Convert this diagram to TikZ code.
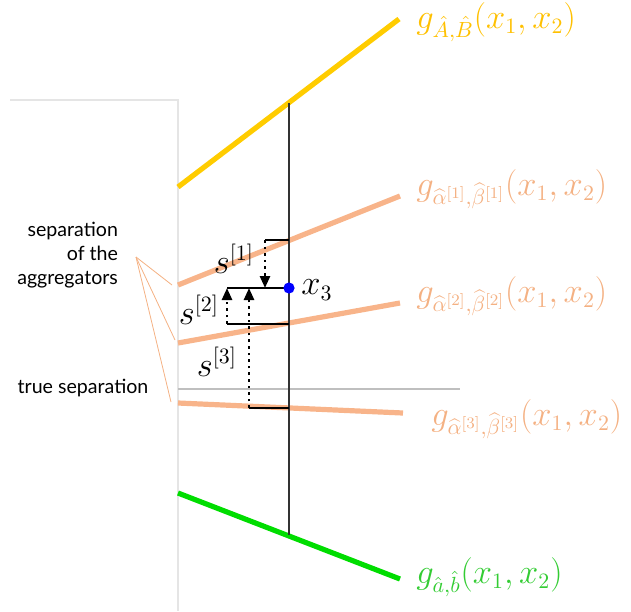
\documentclass[tikz,border=0pt]{standalone}
\usepackage{fontspec}
\setsansfont{Lato}
\usetikzlibrary{arrows.meta}
\definecolor{lgold}{HTML}{FFCC00}
\definecolor{lsalmon}{HTML}{F8B48A}
\definecolor{lgreen}{HTML}{00DD00}
\definecolor{tgold}{HTML}{FFC000}
\definecolor{tsalmon}{HTML}{F4B183}
\definecolor{tgreen}{HTML}{33CC33}
\tikzset{
    aggline/.style={line width=2.6pt},
    gap/.style={black, line width=1.3pt, dotted, -{Triangle[length=6pt,width=5pt]}},
    tick/.style={black, line width=0.6pt},
    flabel/.style={anchor=west, inner sep=1pt, font=\fontsize{16}{18}\selectfont},
    slabel/.style={inner sep=1pt, font=\fontsize{16}{18}\selectfont},
    note/.style={font=\sffamily\fontsize{9.8}{12}\selectfont, align=right},
    leader/.style={tsalmon, line width=0.4pt}
}
\begin{document}
\begin{tikzpicture}[x=0.5pt,y=-0.5pt]
    \useasboundingbox (0,0) rectangle (631,611);
    % frame and true separation
    \draw[gray!20, line width=0.6pt] (10,100) -- (178,100) -- (178,611);
    \draw[gray!50, line width=0.6pt] (178,389) -- (460,389);
    % aggregator lines
    \coordinate (ya) at (178,187); \coordinate (yb) at (399,19);
    \coordinate (oa1) at (178,285); \coordinate (ob1) at (400,196);
    \coordinate (oa2) at (178,343); \coordinate (ob2) at (400,303);
    \coordinate (oa3) at (178,403); \coordinate (ob3) at (403,413);
    \coordinate (ga) at (178,493); \coordinate (gb) at (400,579);
    \draw[aggline, lgold] (ya) -- (yb);
    \draw[aggline, lsalmon] (oa1) -- (ob1);
    \draw[aggline, lsalmon] (oa2) -- (ob2);
    \draw[aggline, lsalmon] (oa3) -- (ob3);
    \draw[aggline, lgreen] (ga) -- (gb);
    % vertical through x3
    \coordinate (vtop) at (289,103);
    \coordinate (vbot) at (289,535);
    \draw[black!80, line width=1pt] (vtop) -- (vbot);
    % distances
    \coordinate (p1) at (289,240);
    \coordinate (p2) at (289,324);
    \coordinate (p3) at (289,408);
    \coordinate (px) at (289,288);
    \draw[tick] (p1) -- (265,240);
    \draw[tick] (px) -- (227,288);
    \draw[tick] (p2) -- (227,324);
    \draw[tick] (p3) -- (249,408);
    \draw[gap] (265,240) -- (265,288);
    \draw[gap] (227,324) -- (227,288);
    \draw[gap] (249,408) -- (249,288);
    \node[slabel] (s1) at (234,259) {$s^{[1]}$};
    \node[slabel] (s2) at (199,310) {$s^{[2]}$};
    \node[slabel] (s3) at (217,362) {$s^{[3]}$};
    \fill[blue] (px) circle (2.8pt);
    \node[slabel, anchor=west] (x3) at (299,290) {$x_3$};
    % function labels
    \node[flabel, text=tgold] (fy) at (414,22) {$g_{\hat{A},\hat{B}}(x_1,x_2)$};
    \node[flabel, text=tsalmon] (fo1) at (414,189) {$g_{\widehat{\alpha}^{[1]},\widehat{\beta}^{[1]}}(x_1,x_2)$};
    \node[flabel, text=tsalmon] (fo2) at (414,296) {$g_{\widehat{\alpha}^{[2]},\widehat{\beta}^{[2]}}(x_1,x_2)$};
    \node[flabel, text=tsalmon] (fo3) at (429,419) {$g_{\widehat{\alpha}^{[3]},\widehat{\beta}^{[3]}}(x_1,x_2)$};
    \node[flabel, text=tgreen] (fg) at (414,577) {$g_{\hat{a},\hat{b}}(x_1,x_2)$};
    % notes on the left
    \node[note, anchor=east] (sep) at (125,255) {separation\\of the\\aggregators};
    \node[note] (tsep) at (83,388) {true separation};
    \coordinate (lf) at (136,257);
    \draw[leader] (lf) -- (172,285);
    \draw[leader] (lf) -- (175,340);
    \draw[leader] (lf) -- (171,402);
\end{tikzpicture}
\end{document}
